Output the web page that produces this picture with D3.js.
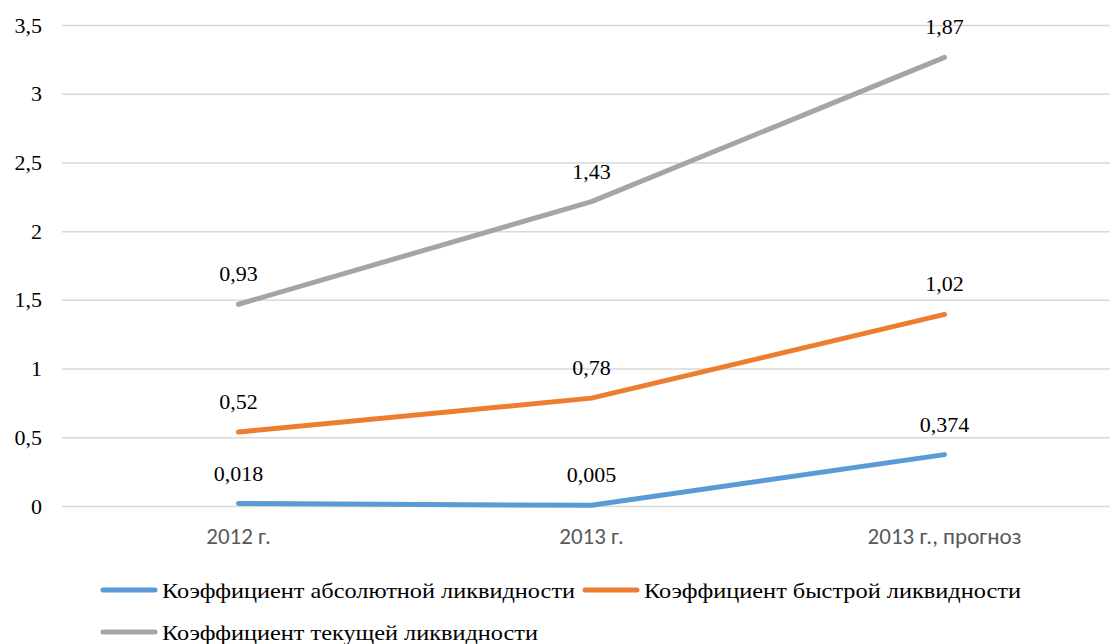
<!DOCTYPE html>
<html>
<head>
<meta charset="utf-8">
<script src="https://cdn.jsdelivr.net/npm/d3@7"></script>
<style>
  body { margin: 0; background: #fff; }
  svg { display: block; }
</style>
</head>
<body>
<div id="wrapper"></div>
<script>
const categories = ["2012 г.", "2013 г.", "2013 г., прогноз"];
const seriesNames = ["Коэффициент абсолютной ликвидности", "Коэффициент быстрой ликвидности", "Коэффициент текущей ликвидности"];
const absLiq = [0.018, 0.005, 0.374];
const quickLiq = [0.52, 0.78, 1.02];
const currLiq = [0.93, 1.43, 1.87];
const seriesLabels = [["0,018", "0,005", "0,374"], ["0,52", "0,78", "1,02"], ["0,93", "1,43", "1,87"]];
const yTicks = [0, 0.5, 1, 1.5, 2, 2.5, 3, 3.5];
const colors = ["#5B9BD5", "#ED7D31", "#A5A5A5"];

const SERIF = "Liberation Serif";
const SANS = "Carlito";

function buildPlot() {
    const dimension = {
        width: 1110,
        height: 644,
        margin: { left: 62, right: -11, top: 25, bottom: 138 }
    };

    const svg = d3.select("#wrapper").append("svg")
        .attr("width", dimension.width)
        .attr("height", dimension.height);

    const x_scale = d3.scaleBand()
        .domain(categories)
        .range([dimension.margin.left, dimension.width - dimension.margin.right]);
    const y_scale = d3.scaleLinear()
        .domain([0, 3.5])
        .range([dimension.height - dimension.margin.bottom, dimension.margin.top]);

    // stacked line chart: each series sits on top of the previous ones
    const raw = [absLiq, quickLiq, currLiq];
    const stacked = [];
    raw.forEach((vals, i) => {
        stacked.push(vals.map((v, j) => v + (i > 0 ? stacked[i - 1][j] : 0)));
    });

    // gridlines + y labels
    const y_axis = d3.axisLeft(y_scale)
        .tickValues(yTicks)
        .tickSize(-(dimension.width - dimension.margin.left - dimension.margin.right))
        .tickPadding(20)
        .tickFormat(d => String(d).replace(".", ","));
    const gy = svg.append("g")
        .attr("transform", `translate(${dimension.margin.left},0)`)
        .call(y_axis)
        .attr("font-family", SERIF)
        .attr("font-size", 22);
    gy.select(".domain").remove();
    gy.selectAll("line").attr("stroke", "#d9d9d9").attr("stroke-width", 1.5);
    gy.selectAll("text").attr("fill", "#000");

    // category axis
    const x_axis = d3.axisBottom(x_scale).tickSize(0).tickPadding(22);
    const gx = svg.append("g")
        .attr("transform", `translate(0,${y_scale(0)})`)
        .call(x_axis)
        .attr("font-family", SANS)
        .attr("font-size", 23);
    gx.select(".domain").remove();
    gx.selectAll("text").attr("fill", "#595959");

    const cx = c => x_scale(c) + x_scale.bandwidth() / 2;
    const line = d3.line()
        .x((d, j) => cx(categories[j]))
        .y(d => y_scale(d));

    stacked.forEach((vals, i) => {
        svg.append("path")
            .attr("fill", "none")
            .attr("stroke", colors[i])
            .attr("stroke-width", 5)
            .attr("stroke-linecap", "round")
            .attr("stroke-linejoin", "round")
            .attr("d", line(vals));
    });

    // data labels
    stacked.forEach((vals, i) => {
        svg.append("g")
            .attr("font-family", SERIF)
            .attr("font-size", 22)
            .selectAll("text")
            .data(vals)
            .join("text")
            .attr("x", (d, j) => cx(categories[j]))
            .attr("y", d => y_scale(d) - 23)
            .attr("text-anchor", "middle")
            .attr("fill", "#000")
            .text((d, j) => seriesLabels[i][j]);
    });

    // legend
    const legendPos = [[100, 590], [582, 590], [100, 632]];
    const legendTextW = [413, 377, 376];
    seriesNames.forEach((name, i) => {
        const g = svg.append("g").attr("transform", `translate(${legendPos[i][0]},${legendPos[i][1]})`);
        g.append("line")
            .attr("x1", 3).attr("x2", 55)
            .attr("stroke", colors[i])
            .attr("stroke-width", 5)
            .attr("stroke-linecap", "round");
        g.append("text")
            .attr("x", 62)
            .attr("dy", "0.35em")
            .attr("font-family", SERIF)
            .attr("font-size", 22)
            .attr("textLength", legendTextW[i])
            .attr("lengthAdjust", "spacingAndGlyphs")
            .attr("fill", "#000")
            .text(name);
    });
}
buildPlot();
</script>
</body>
</html>
